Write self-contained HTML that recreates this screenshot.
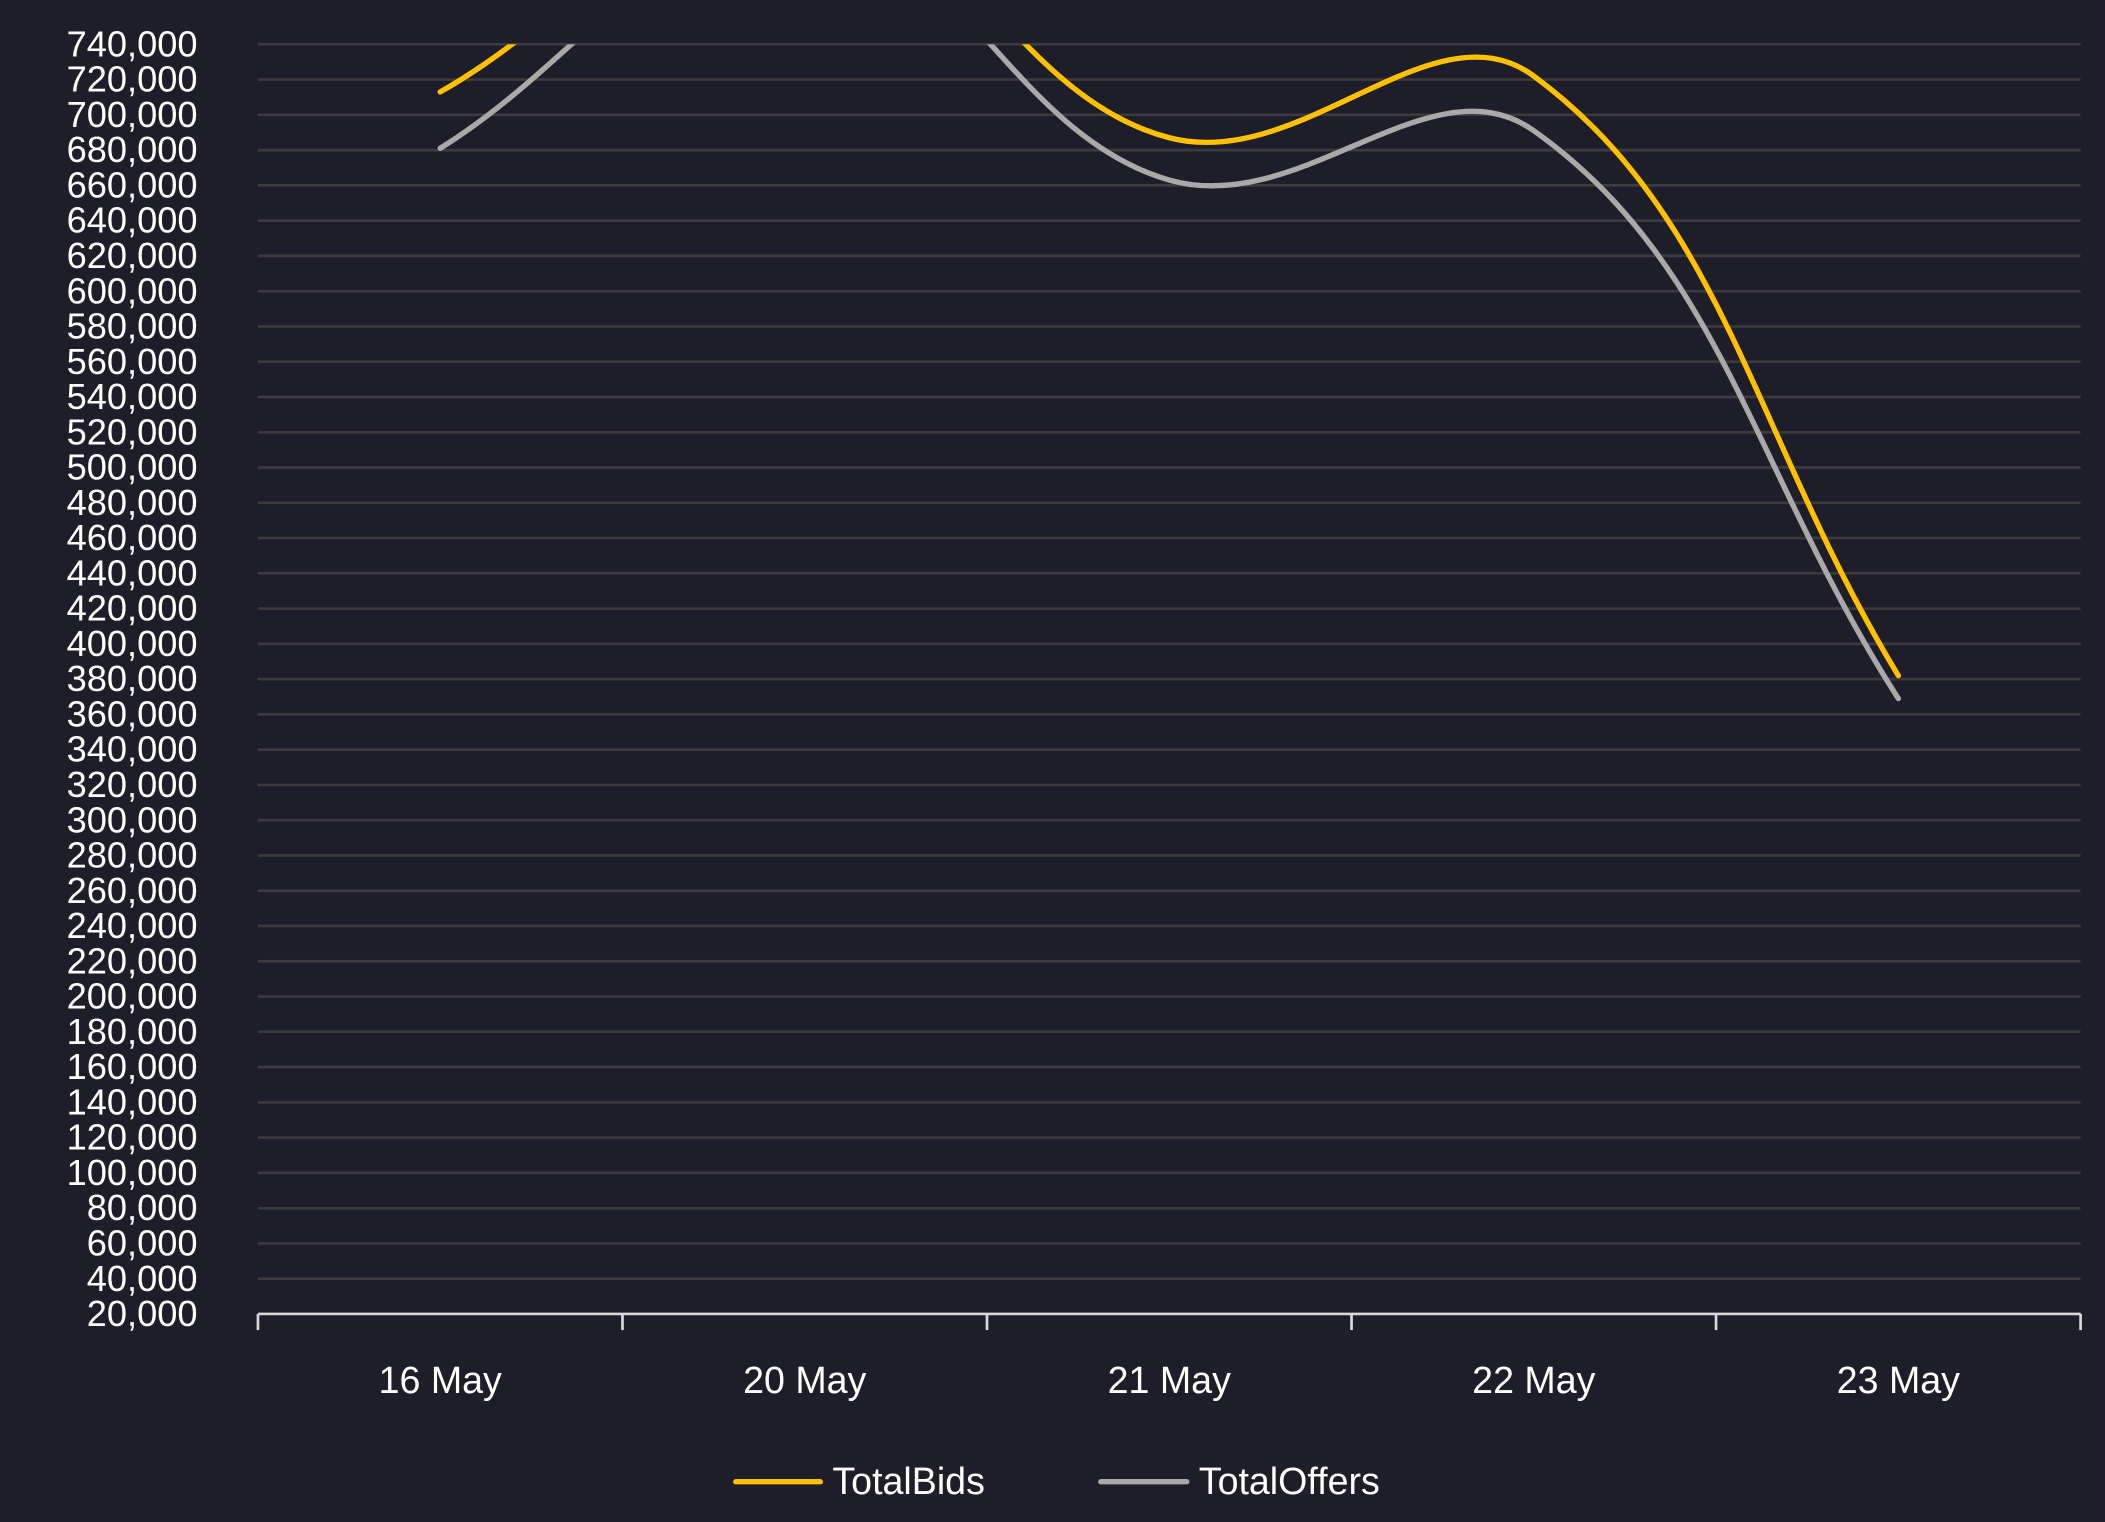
<!DOCTYPE html>
<html><head><meta charset="utf-8"><style>
html,body{margin:0;padding:0;background:#1e1d2a;}
svg{display:block;font-family:"Liberation Sans",sans-serif;}
</style></head><body>
<svg id="chart" width="2105" height="1522" viewBox="0 0 1568 1134" xmlns="http://www.w3.org/2000/svg">
<rect x="0" y="0" width="1568" height="1134" fill="#1e1d2a"/>
<defs><clipPath id="plotclip"><rect x="192" y="33" width="1358" height="950"/></clipPath></defs>
<g id="grid"></g>
<g id="yaxis"></g>
<g id="xaxis"></g>
<g id="series" clip-path="url(#plotclip)"></g>
<g>
  <g>
    <line x1="548" y1="1104" x2="611" y2="1104" stroke="#ffc000" stroke-width="4" stroke-linecap="round"/>
    <text x="620" y="1113" font-size="28" fill="#ffffff">TotalBids</text>
  </g>
  <g>
    <line x1="820" y1="1104" x2="884" y2="1104" stroke="#aaa8a8" stroke-width="4" stroke-linecap="round"/>
    <text x="893" y="1113" font-size="28" fill="#ffffff">TotalOffers</text>
  </g>
</g>
</svg>
<script>
const categories = ["16 May","20 May","21 May","22 May","23 May"];
const totalBids = [713000, 830000, 687000, 722000, 382000];
const totalOffers = [681000, 810000, 663000, 691000, 369000];
const yTicks = [];
for (let v = 20000; v <= 740000; v += 20000) yTicks.push(v);

const NS = "http://www.w3.org/2000/svg";
const X0 = 192, X1 = 1550, YB = 979, YT = 33, VMIN = 20000, VMAX = 740000;
function yScale(v){ return YB - (v - VMIN) / (VMAX - VMIN) * (YB - YT); }
const band = (X1 - X0) / categories.length;
function xScale(i){ return X0 + band * (i + 0.5); }
function mk(tag, attrs, parent){ const e = document.createElementNS(NS, tag); for (const k in attrs) e.setAttribute(k, attrs[k]); parent.appendChild(e); return e; }

const grid = document.getElementById('grid'), yaxis = document.getElementById('yaxis'), xaxis = document.getElementById('xaxis'), series = document.getElementById('series');
yTicks.forEach(v => {
  const y = yScale(v);
  if (v > VMIN) {
    const l = mk('line', {x1:X0, x2:X1, y1:y, y2:y, stroke:'#3b3a3f', 'stroke-width':2}, grid);
    
    
  }
  const t = mk('text', {x:147, y:y + 9, 'text-anchor':'end', 'font-size':27, fill:'#ffffff'}, yaxis);
  t.textContent = v.toLocaleString('en-US');
  
  
});
const ax = mk('line', {x1:X0, x2:X1, y1:YB, y2:YB, stroke:'#d9d9d9', 'stroke-width':2}, xaxis);


for (let i = 0; i <= categories.length; i++) {
  const x = X0 + band * i;
  const tk = mk('line', {x1:x, x2:x, y1:YB, y2:YB + 12, stroke:'#d9d9d9', 'stroke-width':2}, xaxis);
  
  
}
categories.forEach((c, i) => {
  const t = mk('text', {x:xScale(i), y:1038, 'text-anchor':'middle', 'font-size':28, fill:'#ffffff'}, xaxis);
  t.textContent = c;
  
  
});

function splinePath(vals){
  const p = vals.map((v, i) => [xScale(i), yScale(v)]);
  const t = 0.4, cps = [];
  for (let i = 0; i < p.length; i++) {
    const p0 = p[Math.max(0, i - 1)], p1 = p[i], p2 = p[Math.min(p.length - 1, i + 1)];
    const d01 = Math.hypot(p1[0]-p0[0], p1[1]-p0[1]), d12 = Math.hypot(p2[0]-p1[0], p2[1]-p1[1]);
    const s01 = d01 / (d01 + d12 || 1), s12 = d12 / (d01 + d12 || 1);
    const fa = t * s01, fb = t * s12;
    cps.push({prev:[p1[0]-fa*(p2[0]-p0[0]), p1[1]-fa*(p2[1]-p0[1])], next:[p1[0]+fb*(p2[0]-p0[0]), p1[1]+fb*(p2[1]-p0[1])]});
  }
  let d = 'M' + p[0][0] + ',' + p[0][1];
  for (let i = 1; i < p.length; i++) {
    d += ' C' + cps[i-1].next.join(',') + ' ' + cps[i].prev.join(',') + ' ' + p[i].join(',');
  }
  return d;
}
const o = mk('path', {d:splinePath(totalOffers), fill:'none', stroke:'#aaa8a8', 'stroke-width':4, 'stroke-linecap':'round'}, series);


const b = mk('path', {d:splinePath(totalBids), fill:'none', stroke:'#ffc000', 'stroke-width':4, 'stroke-linecap':'round'}, series);


</script>
</body></html>
